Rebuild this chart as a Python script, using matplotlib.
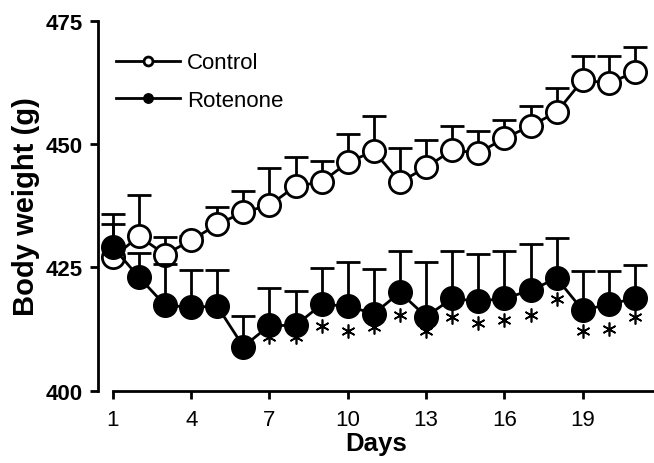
import matplotlib
matplotlib.use('Agg')
import matplotlib.pyplot as plt

# data
days = list(range(1, 22))
control = [427.0, 431.3, 427.6, 430.5, 433.7, 436.2, 437.6, 441.5, 442.3, 446.3, 448.6,
           442.3, 445.3, 448.8, 448.2, 451.2, 453.7, 456.5, 463.0, 462.4, 464.6]
control_err = [6.7, 8.3, 3.6, 0.8, 3.5, 4.2, 7.5, 5.9, 4.2, 5.7, 7.1,
               6.9, 5.5, 4.9, 4.4, 3.7, 4.0, 4.9, 4.9, 5.5, 5.1]
rotenone = [429.1, 423.0, 417.3, 416.9, 417.1, 408.9, 413.2, 413.2, 417.5, 417.1, 415.6,
            419.9, 415.0, 418.7, 418.1, 418.7, 420.3, 422.8, 416.3, 417.5, 418.7]
rotenone_err = [6.7, 5.0, 8.3, 7.5, 7.3, 6.3, 7.7, 6.9, 7.3, 8.9, 9.0,
                8.4, 11.0, 9.6, 9.7, 9.6, 9.4, 8.1, 7.9, 6.7, 6.7]
star_days = list(range(7, 22))
star_y = [410.8, 410.8, 413.0, 412.0, 412.8, 415.4, 412.0, 415.0, 413.8, 414.4,
          415.4, 418.5, 412.0, 412.4, 415.0]
xticks = [1, 4, 7, 10, 13, 16, 19]
yticks = [400, 425, 450, 475]

plt.rcParams['font.family'] = ['Liberation Sans', 'DejaVu Sans']

fig = plt.figure(figsize=(6.54, 4.64), dpi=100)
ax = fig.add_axes([98 / 654, 72.5 / 464, 556 / 654, 369.5 / 464])

lw = 2.0
# control (open circles)
ax.errorbar(days, control, yerr=[[0] * len(days), control_err], fmt='none',
            ecolor='black', elinewidth=lw, capsize=8.5, capthick=lw, zorder=2)
ax.plot(days, control, '-o', color='black', lw=lw, ms=16, mfc='white',
        mec='black', mew=2.0, zorder=3, clip_on=False, label='Control')

# asterisks under the rotenone points
ax.plot(star_days, star_y, ls='none', marker=(6, 2, 0), ms=10, mew=1.2,
        color='black', zorder=3.5)

# rotenone (filled circles)
ax.errorbar(days, rotenone, yerr=[[0] * len(days), rotenone_err], fmt='none',
            ecolor='black', elinewidth=lw, capsize=8.5, capthick=lw, zorder=4)
ax.plot(days, rotenone, '-o', color='black', lw=lw, ms=17, mfc='black',
        mec='black', zorder=5, clip_on=False, label='Rotenone')

ax.set_xlim(0.43, 21.73)
ax.set_ylim(400, 475)
ax.set_xticks(xticks)
ax.set_yticks(yticks)

for s in ['top', 'right']:
    ax.spines[s].set_visible(False)
ax.spines['left'].set_linewidth(2.0)
ax.spines['bottom'].set_linewidth(2.0)
ax.spines['bottom'].set_bounds(1, 21.73)

ax.tick_params(axis='both', length=6, width=2.0, direction='out')
ax.tick_params(axis='x', labelsize=16, pad=7)
ax.tick_params(axis='y', labelsize=16, pad=5)
for t in ax.get_yticklabels():
    t.set_fontweight('bold')

ax.set_xlabel('Days', fontsize=18.5, fontweight='bold', labelpad=1)
ax.set_ylabel('Body weight (g)', fontsize=21, fontweight='bold', labelpad=4)

leg = ax.legend(loc='upper left', bbox_to_anchor=(0.012, 0.945), frameon=False,
                fontsize=16, markerscale=0.4, handlelength=2.9,
                handletextpad=0.3, labelspacing=0.75, borderpad=0)

fig.savefig('out.png', dpi=100)
